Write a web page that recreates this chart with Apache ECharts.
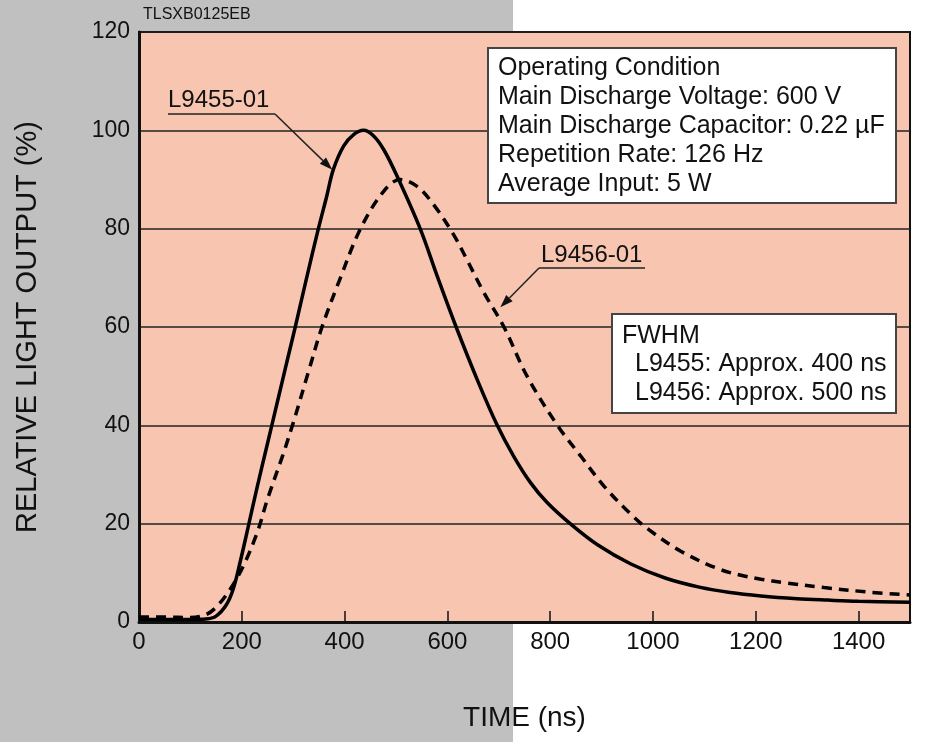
<!DOCTYPE html>
<html>
<head>
<meta charset="utf-8">
<script src="https://cdn.jsdelivr.net/npm/echarts@6/dist/echarts.min.js"></script>
<style>
  html, body { margin: 0; padding: 0; background: #fff; }
  #chart { width: 925px; height: 744px; }
</style>
</head>
<body>
<div id="chart"></div>
<script>
// curve values (time in ns, output in %)
const seriesNames = ['L9455-01', 'L9456-01'];

const l9455Time = [0, 50, 100, 130, 150, 170, 183, 197, 213, 230, 250, 270, 290, 304, 325, 349, 365, 378, 398,
  417, 437, 456, 476, 502, 547, 580, 617, 660, 697, 729, 762, 794, 840, 892, 957, 1025, 1090, 1150, 1210,
  1280, 1340, 1400, 1500];
const l9455Output = [0.5, 0.5, 0.5, 0.6, 1.2, 3.5, 6.6, 12.3, 19.6, 27.5, 36.3, 45.1, 53.9, 60, 69.5, 80, 86.5, 92,
  96.8, 99.1, 100, 98.9, 96.1, 90.7, 80, 70.4, 60, 48.8, 40, 33.7, 28.3, 24.3, 19.9, 15.7, 11.8, 8.9, 7.1, 6.0,
  5.3, 4.75, 4.45, 4.2, 4.0];

const l9456Time = [0, 50, 100, 130, 150, 177, 203, 230, 250, 280, 300, 330, 356, 390, 431, 476, 508, 541,
  573, 612, 638, 671, 710, 755, 814, 859, 905, 957, 989, 1054, 1125, 1171, 1210, 1255, 1333, 1418, 1500];
const l9456Output = [1.0, 1.0, 0.9, 1.5, 3.0, 6.6, 11.4, 18.2, 25, 34, 40.5, 51, 60, 69.5, 80, 87.6, 90, 88.6,
  84.9, 78.8, 73.7, 67, 60, 50, 40, 33.8, 27.6, 21.9, 19.0, 14.4, 10.9, 9.5, 8.7, 8.0, 7.0, 6.1, 5.5];

const xTicks = { min: 0, max: 1500, interval: 200 };
const yTicks = { min: 0, max: 120, interval: 20 };

const conditionLines = [
  'Operating Condition',
  'Main Discharge Voltage: 600 V',
  'Main Discharge Capacitor: 0.22 \u00b5F',
  'Repetition Rate: 126 Hz',
  'Average Input: 5 W'
];
const fwhmTitle = 'FWHM';
const fwhmLines = ['L9455: Approx. 400 ns', 'L9456: Approx. 500 ns'];
const figureCode = 'TLSXB0125EB';

const FONT = '"Liberation Sans", Arial, Helvetica, sans-serif';
const INK = '#111';

const chart = echarts.init(document.getElementById('chart'));

const zip = (xs, ys) => xs.map((x, i) => [x, ys[i]]);

const option = {
  animation: false,
  backgroundColor: '#fff',
  textStyle: { fontFamily: FONT },
  grid: {
    left: 139, right: 15, top: 32, bottom: 122,
    show: true,
    backgroundColor: '#f8c5b0',
    borderColor: INK,
    borderWidth: 2,
    outerBoundsMode: 'none'
  },
  xAxis: {
    type: 'value',
    min: xTicks.min, max: xTicks.max, interval: xTicks.interval,
    name: 'TIME (ns)',
    nameLocation: 'middle',
    nameGap: 82,
    nameMoveOverlap: false,
    nameTextStyle: { fontSize: 28, color: INK, fontFamily: FONT },
    axisLine: { show: true, onZero: false, lineStyle: { color: INK, width: 3 } },
    axisTick: { show: true, inside: true, length: 11, lineStyle: { color: INK, width: 1.5 } },
    axisLabel: { fontSize: 24, color: INK, margin: 8, fontFamily: FONT, showMaxLabel: false,
      formatter: v => String(v) },
    splitLine: { show: false }
  },
  yAxis: {
    type: 'value',
    min: yTicks.min, max: yTicks.max, interval: yTicks.interval,
    name: 'RELATIVE LIGHT OUTPUT (%)',
    nameLocation: 'middle',
    nameRotate: 90,
    nameGap: 97,
    nameMoveOverlap: false,
    nameTextStyle: { fontSize: 29, color: INK, fontFamily: FONT },
    axisLine: { show: true, onZero: false, lineStyle: { color: INK, width: 3 } },
    axisTick: { show: false },
    axisLabel: { fontSize: 23, color: INK, margin: 9, fontFamily: FONT },
    splitLine: { show: true, lineStyle: { color: '#222', width: 1.5 } }
  },
  series: [
    {
      name: seriesNames[0],
      type: 'line',
      data: zip(l9455Time, l9455Output),
      showSymbol: false,
      smooth: 0.35,
      lineStyle: { color: '#000', width: 3.5 },
      z: 3
    },
    {
      name: seriesNames[1],
      type: 'line',
      data: zip(l9456Time, l9456Output),
      showSymbol: false,
      smooth: 0.35,
      lineStyle: { color: '#000', width: 3.5, type: [10, 7] },
      z: 3
    }
  ]
};

chart.setOption(option);

// leader line with a filled arrow head at the tip
function leader(from, tip) {
  const dx = tip[0] - from[0], dy = tip[1] - from[1];
  const len = Math.sqrt(dx * dx + dy * dy);
  const ux = dx / len, uy = dy / len;
  const hl = 13, hw = 4.5;
  const bx = tip[0] - ux * hl, by = tip[1] - uy * hl;
  return [
    { type: 'line', z: 20, shape: { x1: from[0], y1: from[1], x2: bx, y2: by },
      style: { stroke: '#222', lineWidth: 1.5 } },
    { type: 'polygon', z: 20,
      shape: { points: [tip, [bx - uy * hw, by + ux * hw], [bx + uy * hw, by - ux * hw]] },
      style: { fill: '#111' } }
  ];
}

function label(text, x, y, size, extra) {
  return Object.assign({
    type: 'text', z: 21, x: x, y: y,
    style: { text: text, fontSize: size, fontFamily: FONT, fill: INK, align: 'left', verticalAlign: 'middle' }
  }, extra || {});
}

const tip1 = chart.convertToPixel({ gridIndex: 0 }, [376, 92]);
const tip2 = chart.convertToPixel({ gridIndex: 0 }, [703, 64]);

const graphics = [
  // grey scan strip on the left of the page
  { type: 'rect', z: -100, silent: true, shape: { x: 0, y: 0, width: 513, height: 742 },
    style: { fill: '#c0c0c0' } },
  label(figureCode, 143, 15, 16),

  label(seriesNames[0], 168, 100, 24),
  { type: 'line', z: 20, shape: { x1: 168, y1: 114, x2: 275, y2: 114 }, style: { stroke: '#222', lineWidth: 1.5 } },
  ...leader([275, 114], tip1),

  label(seriesNames[1], 541, 255, 24),
  { type: 'line', z: 20, shape: { x1: 539, y1: 268, x2: 645, y2: 268 }, style: { stroke: '#222', lineWidth: 1.5 } },
  ...leader([539, 268], tip2),

  // operating condition box
  { type: 'rect', z: 15, shape: { x: 488, y: 48, width: 408, height: 155 },
    style: { fill: '#fff', stroke: '#444', lineWidth: 2 } },
  {
    type: 'text', z: 21, x: 498, y: 54,
    style: { text: conditionLines.join('\n'), fontSize: 25, lineHeight: 29, fontFamily: FONT, fill: INK,
      align: 'left', verticalAlign: 'top' }
  },

  // FWHM box
  { type: 'rect', z: 15, shape: { x: 612, y: 314, width: 284, height: 99 },
    style: { fill: '#fff', stroke: '#444', lineWidth: 2 } },
  label(fwhmTitle, 622, 336, 25),
  {
    type: 'text', z: 21, x: 635, y: 350,
    style: { text: fwhmLines.join('\n'), fontSize: 25, lineHeight: 28.5, fontFamily: FONT, fill: INK,
      align: 'left', verticalAlign: 'top' }
  }
];

chart.setOption({ graphic: { elements: graphics } });
</script>
</body>
</html>
